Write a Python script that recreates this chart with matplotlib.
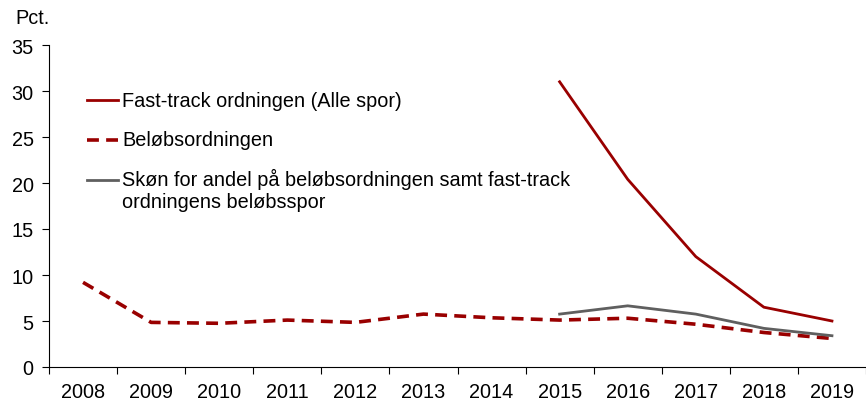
import matplotlib.pyplot as plt

plt.rcParams['font.family'] = ['Liberation Sans', 'DejaVu Sans']
plt.rcParams['font.size'] = 14.3

years = ['2008', '2009', '2010', '2011', '2012', '2013',
         '2014', '2015', '2016', '2017', '2018', '2019']
beloeb = [9.2, 4.85, 4.75, 5.1, 4.85, 5.75, 5.35, 5.1, 5.3, 4.65, 3.75, 3.1]
fasttrack_years = ['2015', '2016', '2017', '2018', '2019']
fasttrack = [31.0, 20.4, 12.0, 6.5, 5.0]
skoen = [5.75, 6.65, 5.75, 4.2, 3.4]

labels = ['Fast-track ordningen (Alle spor)',
          'Beløbsordningen',
          'Skøn for andel på beløbsordningen samt fast-track\nordningens beløbsspor']

red = '#990000'
grey = '#5f5f5f'

fig = plt.figure(figsize=(8.66, 4.06), dpi=100)
ax = fig.add_axes([49 / 866, 38 / 406, 817 / 866, 322 / 406])

x_all = list(range(len(years)))
x_ft = [years.index(y) for y in fasttrack_years]

ax.plot(x_all, beloeb, color=red, lw=2.6, dashes=(3.3, 2.0))
ax.plot(x_ft, fasttrack, color=red, lw=2.0)
ax.plot(x_ft, skoen, color=grey, lw=2.0)

ax.set_ylim(0, 35)
ax.set_yticks(range(0, 36, 5))
ax.set_xlim(-0.5, 11.39)
ax.set_xticks([i - 0.5 for i in range(len(years) + 1)])
ax.set_xticklabels([])
ax.set_xticks(x_all, minor=True)
ax.set_xticklabels(years, minor=True)
ax.tick_params(axis='x', which='minor', length=0, pad=11)
ax.tick_params(axis='x', which='major', length=5, direction='out')
ax.tick_params(axis='y', length=5, direction='out', pad=6)

for s in ['top', 'right']:
    ax.spines[s].set_visible(False)

# legend drawn by hand so the handle lines up with the first text line
styles = [dict(color=red, lw=2.0),
          dict(color=red, lw=2.6, dashes=(3.3, 2.0)),
          dict(color=grey, lw=2.0)]
ys = [0.829, 0.705, 0.581]
for lab, st, yy in zip(labels, styles, ys):
    ax.plot([0.0465, 0.0845], [yy, yy], transform=ax.transAxes, clip_on=False, **st)
    if '\n' in lab:
        ax.text(0.0894, yy + 0.036, lab, transform=ax.transAxes, va='top', linespacing=1.15)
    else:
        ax.text(0.0894, yy, lab, transform=ax.transAxes, va='center')

fig.text(15 / 866, 1 - 19 / 406, 'Pct.', va='center', ha='left')

fig.savefig('out.png', dpi=100)
